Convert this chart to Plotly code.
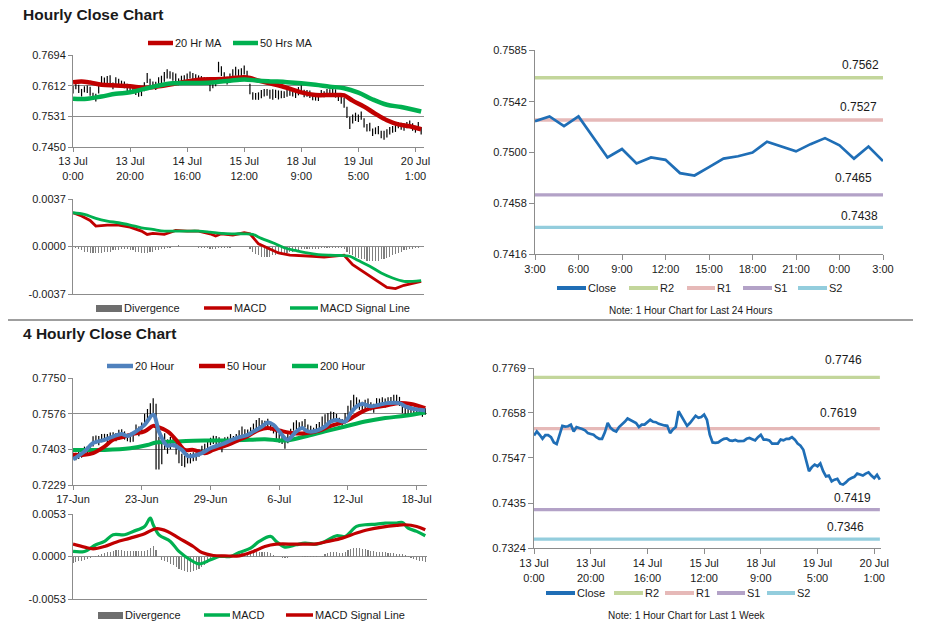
import plotly.graph_objects as go

# ---------------- DATA ----------------
# 1-hour close, last week (13 Jul 0:00 -> 20 Jul ~2:00), hourly index
close_1w = [0.7602,0.7612,0.7604,0.7594,0.7603,0.7603,0.7598,0.7585,0.7581,0.7603,
            0.7626,0.7624,0.7625,0.7629,0.7612,0.7623,0.7621,0.7618,0.7615,0.7608,
            0.7606,0.7604,0.7598,0.7594,0.7594,0.7610,0.7633,0.7621,0.7615,0.7612,
            0.7623,0.7629,0.7636,0.7644,0.7641,0.7637,0.7633,0.7623,0.7629,0.7629,
            0.7635,0.7641,0.7636,0.7635,0.7631,0.7628,0.7627,0.7626,0.7608,0.7617,
            0.7623,0.7662,0.7651,0.7637,0.7626,0.7633,0.7643,0.7651,0.7646,0.7648,
            0.7654,0.7641,0.7604,0.7585,0.7584,0.7585,0.7590,0.7594,0.7595,0.7590,
            0.7589,0.7591,0.7588,0.7589,0.7589,0.7594,0.7596,0.7593,0.7590,0.7598,
            0.7604,0.7592,0.7592,0.7590,0.7582,0.7582,0.7582,0.7592,0.7590,0.7594,
            0.7594,0.7598,0.7592,0.7582,0.7577,0.7567,0.7542,0.7514,0.7524,0.7530,
            0.7526,0.7533,0.7514,0.7501,0.7503,0.7489,0.7493,0.7495,0.7483,0.7481,
            0.7486,0.7493,0.7497,0.7500,0.7508,0.7505,0.7503,0.7508,0.7511,0.7503,
            0.7497,0.7505,0.7493]
# half high-low range of the hourly bars
bar_half_1h = [0.0010,0.0009,0.0011,0.0010,0.0008,0.0010,0.0012,0.0009,0.0010,0.0011,
               0.0012,0.0010,0.0013,0.0011,0.0009,0.0012,0.0010,0.0008,0.0009,0.0010,
               0.0008,0.0009,0.0010,0.0011,0.0009,0.0012,0.0013,0.0010,0.0009,0.0011,
               0.0012,0.0010,0.0013,0.0012,0.0010,0.0011,0.0012,0.0009,0.0010,0.0011,
               0.0010,0.0009,0.0010,0.0008,0.0009,0.0010,0.0008,0.0009,0.0010,0.0011,
               0.0012,0.0014,0.0013,0.0011,0.0010,0.0012,0.0013,0.0012,0.0010,0.0011,
               0.0012,0.0011,0.0014,0.0010,0.0009,0.0010,0.0011,0.0010,0.0009,0.0012,
               0.0014,0.0011,0.0012,0.0010,0.0009,0.0011,0.0010,0.0009,0.0010,0.0011,
               0.0012,0.0010,0.0009,0.0010,0.0008,0.0009,0.0010,0.0009,0.0008,0.0010,
               0.0009,0.0010,0.0011,0.0010,0.0012,0.0013,0.0015,0.0016,0.0012,0.0011,
               0.0010,0.0011,0.0012,0.0010,0.0011,0.0010,0.0009,0.0011,0.0010,0.0012,
               0.0011,0.0010,0.0009,0.0010,0.0008,0.0009,0.0010,0.0008,0.0009,0.0010,
               0.0009,0.0011,0.0010]
ma20_1h_x = [0,3,6,10,15,20,25,30,35,40,45,50,55,60,62,65,70,75,80,85,90,93,95,98,102,106,110,114,118,122]
ma20_1h = [0.7622,0.7624,0.7621,0.7615,0.7613,0.7611,0.7607,0.7611,0.7617,0.7624,0.7629,0.7630,0.7632,0.7635,0.7633,
           0.7626,0.7617,0.7607,0.7595,0.7588,0.7588,0.7588,0.7587,0.7573,0.7557,0.7538,0.7521,0.7510,0.7505,0.7497]
ma50_1h_x = [0,5,10,15,20,25,30,35,40,45,50,55,60,65,70,75,80,85,90,95,100,105,110,115,122]
ma50_1h = [0.7578,0.7578,0.7584,0.7591,0.7595,0.7604,0.7613,0.7619,0.7620,0.7620,0.7622,0.7626,0.7629,
           0.7626,0.7624,0.7622,0.7619,0.7615,0.7610,0.7606,0.7594,0.7576,0.7562,0.7556,0.7544]
hour_ticks_1w = [0,20,40,60,80,100,120]
hour_labels_1w = ["13 Jul<br>0:00","13 Jul<br>20:00","14 Jul<br>16:00","15 Jul<br>12:00",
                  "18 Jul<br>9:00","19 Jul<br>5:00","20 Jul<br>1:00"]

# hourly MACD
macd_1h_x = [0,3,6,8,12,16,20,24,26,28,32,36,40,44,48,50,52,56,60,62,65,68,72,76,80,84,88,92,95,98,102,106,110,113,116,119,122]
macd_1h = [0.00263,0.00237,0.00203,0.00159,0.00167,0.00167,0.00151,0.00120,0.00094,0.00102,
           0.00094,0.00125,0.00120,0.00120,0.00099,0.00081,0.00099,0.00089,0.00107,0.00099,
           0.00021,-0.00010,-0.00050,-0.00068,-0.00070,-0.00076,-0.00083,-0.00076,-0.00068,-0.00141,
           -0.00198,-0.00258,-0.00318,-0.00328,-0.00302,-0.00287,-0.00271]
signal_1h_x = [0,4,8,12,16,20,24,28,32,36,40,44,48,52,56,60,63,66,70,74,78,82,86,90,94,97,100,104,108,112,116,119,122]
signal_1h = [0.00263,0.00250,0.00219,0.00198,0.00185,0.00167,0.00146,0.00133,0.00120,0.00120,
             0.00120,0.00120,0.00112,0.00102,0.00099,0.00099,0.00094,0.00063,0.00029,-0.00010,
             -0.00031,-0.00050,-0.00063,-0.00068,-0.00070,-0.00076,-0.00109,-0.00154,-0.00206,-0.00245,
             -0.00271,-0.00271,-0.00266]
div_1h = [0.0000,-0.0001,-0.0002,-0.0003,-0.0004,-0.0004,-0.0005,-0.0005,-0.0005,-0.0005,
          -0.0005,-0.0004,-0.0004,-0.0004,-0.0003,-0.0003,-0.0003,-0.0002,-0.0002,-0.0002,
          -0.0003,-0.0003,-0.0004,-0.0004,-0.0005,-0.0005,-0.0005,-0.0004,-0.0004,-0.0003,
          -0.0003,-0.0002,-0.0002,-0.0001,-0.0001,0.0000,0.0000,0.0001,0.0000,0.0000,
          0.0000,0.0000,0.0000,0.0000,-0.0001,-0.0001,-0.0001,-0.0001,-0.0002,-0.0002,
          -0.0002,-0.0001,-0.0001,-0.0001,-0.0001,-0.0001,0.0000,0.0000,0.0000,0.0000,
          0.0000,0.0000,-0.0002,-0.0004,-0.0006,-0.0007,-0.0008,-0.0008,-0.0008,-0.0008,
          -0.0007,-0.0007,-0.0006,-0.0006,-0.0005,-0.0005,-0.0004,-0.0004,-0.0003,-0.0003,
          -0.0002,-0.0002,-0.0002,-0.0002,-0.0002,-0.0002,-0.0002,-0.0001,-0.0001,-0.0001,
          -0.0001,-0.0001,-0.0001,-0.0001,-0.0001,-0.0002,-0.0004,-0.0006,-0.0007,-0.0008,
          -0.0009,-0.0010,-0.0010,-0.0011,-0.0011,-0.0011,-0.0011,-0.0011,-0.0010,-0.0010,
          -0.0009,-0.0008,-0.0007,-0.0006,-0.0005,-0.0004,-0.0003,-0.0003,-0.0002,-0.0002,
          -0.0001,-0.0001,0.0000]

# 1-hour close, last 24 hours
close_24h = [0.7526,0.7530,0.7522,0.7530,0.7513,0.7496,0.7503,0.7491,0.7496,0.7494,0.7483,0.7481,0.7488,
             0.7495,0.7497,0.7500,0.7509,0.7505,0.7501,0.7507,0.7512,0.7506,0.7495,0.7505,0.7493]
hour_labels_24h = ["3:00","6:00","9:00","12:00","15:00","18:00","21:00","0:00","3:00"]
levels_24h = {"R2": 0.7562, "R1": 0.7527, "S1": 0.7465, "S2": 0.7438}
levels_1w = {"R2": 0.7746, "R1": 0.7619, "S1": 0.7419, "S2": 0.7346}

# 4-hourly bars (mid and half range)
mid_4h = [0.7371,0.7368,0.7375,0.7380,0.7400,0.7398,0.7405,0.7441,0.7450,0.7445,
          0.7457,0.7460,0.7455,0.7465,0.7468,0.7462,0.7473,0.7478,0.7470,0.7460,
          0.7457,0.7462,0.7498,0.7490,0.7505,0.7546,0.7571,0.7595,0.7612,0.7465,
          0.7384,0.7400,0.7441,0.7416,0.7433,0.7441,0.7408,0.7367,0.7351,0.7343,
          0.7359,0.7359,0.7367,0.7367,0.7384,0.7400,0.7408,0.7424,0.7441,0.7449,
          0.7446,0.7441,0.7416,0.7441,0.7446,0.7457,0.7449,0.7457,0.7473,0.7490,
          0.7481,0.7481,0.7490,0.7506,0.7522,0.7530,0.7522,0.7522,0.7530,0.7514,
          0.7498,0.7473,0.7457,0.7449,0.7433,0.7457,0.7481,0.7514,0.7522,0.7514,
          0.7522,0.7530,0.7506,0.7498,0.7490,0.7506,0.7514,0.7538,0.7546,0.7555,
          0.7563,0.7563,0.7555,0.7538,0.7530,0.7555,0.7587,0.7612,0.7636,0.7628,
          0.7620,0.7612,0.7620,0.7628,0.7612,0.7603,0.7628,0.7628,0.7636,0.7628,
          0.7636,0.7636,0.7644,0.7644,0.7636,0.7603,0.7595,0.7587,0.7595,0.7587,
          0.7587,0.7595,0.7579,0.7587]
bar_half_4h = [0.0015,0.0018,0.0020,0.0018,0.0016,0.0020,0.0022,0.0025,0.0020,0.0022,
               0.0020,0.0018,0.0022,0.0020,0.0018,0.0020,0.0025,0.0022,0.0020,0.0018,
               0.0020,0.0022,0.0025,0.0024,0.0028,0.0030,0.0028,0.0032,0.0040,0.0160,
               0.0080,0.0070,0.0040,0.0035,0.0030,0.0028,0.0030,0.0032,0.0030,0.0028,
               0.0025,0.0025,0.0022,0.0020,0.0018,0.0020,0.0022,0.0020,0.0018,0.0020,
               0.0022,0.0020,0.0028,0.0020,0.0018,0.0020,0.0018,0.0020,0.0022,0.0024,
               0.0020,0.0018,0.0020,0.0022,0.0024,0.0025,0.0022,0.0020,0.0022,0.0020,
               0.0018,0.0020,0.0022,0.0020,0.0028,0.0025,0.0022,0.0020,0.0022,0.0020,
               0.0018,0.0020,0.0018,0.0020,0.0018,0.0020,0.0022,0.0025,0.0028,0.0025,
               0.0024,0.0022,0.0020,0.0018,0.0020,0.0025,0.0028,0.0030,0.0032,0.0028,
               0.0025,0.0022,0.0024,0.0022,0.0020,0.0022,0.0024,0.0022,0.0020,0.0022,
               0.0020,0.0022,0.0024,0.0025,0.0022,0.0025,0.0022,0.0020,0.0018,0.0020,
               0.0018,0.0016,0.0018,0.0016]
ma20_4h_x = [0,4,7,11,14,17,19,22,25,28,30,32,33,35,38,40,42,45,48,53,57,61,63,66,68,70,72,74,75,78,
             80,82,85,88,90,92,95,97,99,101,104,107,110,114,116,119,121,123]
ma20_4h = [0.7354,0.7392,0.7433,0.7449,0.7465,0.7477,0.7468,0.7490,0.7522,0.7571,
           0.7490,0.7433,0.7420,0.7424,0.7400,0.7371,0.7371,0.7384,0.7408,0.7433,
           0.7457,0.7473,0.7490,0.7514,0.7533,0.7522,0.7490,0.7457,0.7449,0.7490,
           0.7506,0.7490,0.7493,0.7514,0.7538,0.7546,0.7538,0.7579,0.7612,0.7623,
           0.7612,0.7620,0.7628,0.7628,0.7612,0.7599,0.7595,0.7592]
ma50_4h_x = [0,4,7,11,14,18,21,25,28,29,33,36,39,42,46,49,54,58,61,65,68,72,77,81,86,90,95,100,104,109,114,118,123]
ma50_4h = [0.7376,0.7376,0.7384,0.7416,0.7449,0.7465,0.7478,0.7490,0.7517,0.7514,
           0.7490,0.7449,0.7400,0.7400,0.7384,0.7400,0.7424,0.7449,0.7467,0.7498,
           0.7506,0.7494,0.7481,0.7481,0.7494,0.7517,0.7538,0.7579,0.7603,0.7615,
           0.7628,0.7623,0.7603]
ma200_4h_x = [0,11,20,26,29,36,46,55,62,67,72,75,81,88,95,102,109,116,123]
ma200_4h = [0.7400,0.7400,0.7408,0.7424,0.7436,0.7441,0.7446,0.7446,0.7449,0.7452,
            0.7446,0.7446,0.7465,0.7490,0.7514,0.7538,0.7555,0.7566,0.7582]
day_ticks_4h = [0,24,48,72,96,120]
day_labels_4h = ["17-Jun","23-Jun","29-Jun","6-Jul","12-Jul","18-Jul"]

# 4-hourly MACD
macd_4h_x = [0,4,8,11,14,18,21,25,27,28,30,34,37,41,44,48,51,55,58,62,65,69,71,74,78,81,85,88,92,95,
             99,102,106,109,113,115,117,120,123]
macd_4h = [0.00063,0.00063,0.00146,0.00188,0.00271,0.00271,0.00313,0.00375,0.00480,0.00396,
           0.00271,0.00188,0.00063,-0.00042,-0.00092,-0.00042,0.00000,0.00000,0.00050,0.00104,
           0.00188,0.00250,0.00188,0.00117,0.00146,0.00167,0.00154,0.00188,0.00259,0.00250,
           0.00375,0.00396,0.00404,0.00417,0.00417,0.00425,0.00354,0.00313,0.00259]
signal_4h_x = [0,4,7,11,15,20,25,29,33,37,42,45,49,53,58,63,67,71,78,85,89,94,99,103,108,113,116,120,123]
signal_4h = [0.00154,0.00117,0.00096,0.00125,0.00179,0.00229,0.00284,0.00346,0.00313,0.00229,
             0.00125,0.00050,0.00013,0.00008,0.00008,0.00063,0.00125,0.00154,0.00154,0.00158,
             0.00188,0.00229,0.00292,0.00334,0.00367,0.00388,0.00396,0.00375,0.00334]
div_4h = [-0.0008,-0.0007,-0.0006,-0.0005,-0.0004,-0.0003,-0.0002,-0.0001,0.0001,0.0002,
          0.0003,0.0004,0.0005,0.0006,0.0007,0.0008,0.0008,0.0008,0.0007,0.0007,
          0.0007,0.0007,0.0007,0.0007,0.0007,0.0007,0.0008,0.0010,0.0013,0.0008,
          -0.0001,-0.0004,-0.0005,-0.0007,-0.0009,-0.0011,-0.0013,-0.0015,-0.0017,-0.0018,
          -0.0019,-0.0019,-0.0018,-0.0017,-0.0015,-0.0013,-0.0011,-0.0008,-0.0006,-0.0004,
          -0.0002,-0.0001,0.0000,0.0001,0.0001,0.0002,0.0002,0.0003,0.0003,0.0004,
          0.0004,0.0005,0.0005,0.0005,0.0006,0.0006,0.0006,0.0006,0.0006,0.0004,
          0.0002,0.0000,-0.0001,-0.0002,-0.0002,-0.0002,-0.0001,-0.0001,0.0000,0.0000,
          0.0001,0.0001,0.0001,0.0001,0.0001,0.0001,0.0000,0.0001,0.0003,0.0004,
          0.0005,0.0005,0.0005,0.0004,0.0004,0.0006,0.0008,0.0009,0.0010,0.0010,
          0.0010,0.0009,0.0009,0.0008,0.0007,0.0007,0.0006,0.0006,0.0005,0.0005,
          0.0004,0.0004,0.0004,0.0003,0.0003,0.0003,0.0002,0.0001,-0.0002,-0.0003,
          -0.0004,-0.0005,-0.0006,-0.0007]

# ---------------- STYLE ----------------
W, H = 928, 638
FONT = "Arial, 'Liberation Sans', sans-serif"
RED, GREEN, BLUE_MA, CLOSE = "#C00000", "#00B050", "#4F81BD", "#1F6EB6"
LEVEL_COLORS = {"R2": "#C3D69B", "R1": "#E6B9B8", "S1": "#B3A2C7", "S2": "#93CDDD"}
GRID, DIVC, TXT = "#8C8C8C", "#7F7F7F", "#1A1A1A"


def fx(p):
    return p / W


def fy(p):
    return 1 - p / H


def hl_path(mid, half):
    xs, ys = [], []
    for i, (m, h) in enumerate(zip(mid, half)):
        xs += [i, i, None]
        ys += [m - h, m + h, None]
    return xs, ys


fig = go.Figure()

# ---- top-left: hourly close with MAs ----
bx, by = hl_path(close_1w, bar_half_1h)
fig.add_trace(go.Scatter(x=bx, y=by, mode="lines", line=dict(color="black", width=1.2),
                         xaxis="x", yaxis="y", showlegend=False, hoverinfo="skip"))
fig.add_trace(go.Scatter(x=ma20_1h_x, y=ma20_1h, mode="lines", line=dict(color=RED, width=4.5, shape="spline"),
                         xaxis="x", yaxis="y", showlegend=False, name="20 Hr MA"))
fig.add_trace(go.Scatter(x=ma50_1h_x, y=ma50_1h, mode="lines", line=dict(color=GREEN, width=4.5, shape="spline"),
                         xaxis="x", yaxis="y", showlegend=False, name="50 Hrs MA"))

# ---- top-left MACD ----
fig.add_trace(go.Bar(x=list(range(len(div_1h))), y=div_1h, width=0.4, marker=dict(color=DIVC, line=dict(width=0)),
                     xaxis="x2", yaxis="y2", showlegend=False, name="Divergence"))
fig.add_trace(go.Scatter(x=macd_1h_x, y=macd_1h, mode="lines", line=dict(color=RED, width=2.8),
                         xaxis="x2", yaxis="y2", showlegend=False, name="MACD"))
fig.add_trace(go.Scatter(x=signal_1h_x, y=signal_1h, mode="lines", line=dict(color=GREEN, width=2.8, shape="spline"),
                         xaxis="x2", yaxis="y2", showlegend=False, name="MACD Signal Line"))

# ---- top-right: 24h close with levels ----
hours_24 = list(range(len(close_24h)))
for k, v in levels_24h.items():
    fig.add_trace(go.Scatter(x=[hours_24[0], hours_24[-1]], y=[v, v], mode="lines",
                             line=dict(color=LEVEL_COLORS[k], width=3.3), xaxis="x3", yaxis="y3",
                             showlegend=False, name=k))
fig.add_trace(go.Scatter(x=hours_24, y=close_24h, mode="lines", line=dict(color=CLOSE, width=2.7),
                         xaxis="x3", yaxis="y3", showlegend=False, name="Close"))

# ---- bottom-left: 4 hourly ----
bx4, by4 = hl_path(mid_4h, bar_half_4h)
fig.add_trace(go.Scatter(x=bx4, y=by4, mode="lines", line=dict(color="black", width=1.2),
                         xaxis="x4", yaxis="y4", showlegend=False, hoverinfo="skip"))
fig.add_trace(go.Scatter(x=ma200_4h_x, y=ma200_4h, mode="lines", line=dict(color=GREEN, width=4, shape="spline"),
                         xaxis="x4", yaxis="y4", showlegend=False, name="200 Hour"))
fig.add_trace(go.Scatter(x=ma50_4h_x, y=ma50_4h, mode="lines", line=dict(color=RED, width=4, shape="spline"),
                         xaxis="x4", yaxis="y4", showlegend=False, name="50 Hour"))
fig.add_trace(go.Scatter(x=ma20_4h_x, y=ma20_4h, mode="lines", line=dict(color=BLUE_MA, width=4, shape="spline"),
                         xaxis="x4", yaxis="y4", showlegend=False, name="20 Hour"))

# ---- bottom-left MACD ----
fig.add_trace(go.Bar(x=list(range(len(div_4h))), y=div_4h, width=0.4, marker=dict(color=DIVC, line=dict(width=0)),
                     xaxis="x5", yaxis="y5", showlegend=False, name="Divergence"))
fig.add_trace(go.Scatter(x=macd_4h_x, y=macd_4h, mode="lines", line=dict(color=GREEN, width=3.2, shape="spline"),
                         xaxis="x5", yaxis="y5", showlegend=False, name="MACD"))
fig.add_trace(go.Scatter(x=signal_4h_x, y=signal_4h, mode="lines", line=dict(color=RED, width=3.2, shape="spline"),
                         xaxis="x5", yaxis="y5", showlegend=False, name="MACD Signal Line"))

# ---- bottom-right: 1 week close with levels ----
hours_1w = list(range(len(close_1w)))
for k, v in levels_1w.items():
    fig.add_trace(go.Scatter(x=[hours_1w[0], hours_1w[-1]], y=[v, v], mode="lines",
                             line=dict(color=LEVEL_COLORS[k], width=3.3), xaxis="x6", yaxis="y6",
                             showlegend=False, name=k))
fig.add_trace(go.Scatter(x=hours_1w, y=close_1w, mode="lines", line=dict(color=CLOSE, width=2.7),
                         xaxis="x6", yaxis="y6", showlegend=False, name="Close"))

# ---------------- AXES ----------------
tickfont = dict(family=FONT, size=11, color=TXT)


def yax(dom, rng, vals, anchor, grid=True, ticklen=4):
    return dict(domain=[fy(dom[0]), fy(dom[1])], range=rng, tickvals=vals, anchor=anchor,
                ticktext=[f"{v:.4f}" for v in vals], showgrid=grid, gridcolor=GRID, gridwidth=1,
                showline=True, linecolor=GRID, linewidth=1, ticks="outside", ticklen=ticklen, tickcolor=GRID,
                zeroline=False, tickfont=tickfont, fixedrange=True, automargin=False)


def xax(dom, rng, anchor, vals=None, text=None, show=True, ticklen=4):
    d = dict(domain=[fx(dom[0]), fx(dom[1])], range=rng, anchor=anchor, showgrid=False, zeroline=False,
             showline=True, linecolor=GRID, linewidth=1, tickfont=tickfont, fixedrange=True,
             automargin=False)
    if show:
        d.update(tickvals=vals, ticktext=text, ticks="outside", ticklen=ticklen, tickcolor=GRID)
    else:
        d.update(showticklabels=False, ticks="")
    return d


fig.update_layout(
    template="none",
    width=W, height=H, autosize=False, margin=dict(l=0, r=0, t=0, b=0, pad=0),
    paper_bgcolor="white", plot_bgcolor="white", font=dict(family=FONT, color=TXT),
    barmode="overlay", bargap=0, showlegend=False,
    xaxis=xax((73, 424), [0, 123], "y", hour_ticks_1w, hour_labels_1w),
    yaxis=yax((147, 55), [0.7450, 0.7694], [0.7450, 0.7531, 0.7612, 0.7694], "x"),
    xaxis2=xax((73, 424), [0, 123], "y2", show=False),
    yaxis2=yax((294, 199), [-0.0037, 0.0037], [-0.0037, 0.0, 0.0037], "x2"),
    xaxis3=xax((535, 883), [0, 24], "y3", list(range(0, 25, 3)), hour_labels_24h, ticklen=5),
    yaxis3=yax((254, 50), [0.7416, 0.7585], [0.7416, 0.7458, 0.7500, 0.7542, 0.7585], "x3",
               grid=False, ticklen=5),
    xaxis4=xax((73, 427), [0, 123.6], "y4", day_ticks_4h, day_labels_4h),
    yaxis4=yax((485, 378), [0.7229, 0.7750], [0.7229, 0.7403, 0.7576, 0.7750], "x4"),
    xaxis5=xax((73, 427), [0, 123.6], "y5", show=False),
    yaxis5=yax((599, 514), [-0.0053, 0.0053], [-0.0053, 0.0, 0.0053], "x5"),
    xaxis6=xax((534, 881), [0, 122.4], "y6", hour_ticks_1w, hour_labels_1w, ticklen=5),
    yaxis6=yax((548, 368), [0.7324, 0.7769], [0.7324, 0.7435, 0.7547, 0.7658, 0.7769], "x6",
               grid=False, ticklen=5),
)

shapes, annots = [], []


def text(x, y, s, size=11, anchor="left", bold=False):
    annots.append(dict(x=fx(x), y=fy(y), xref="paper", yref="paper", text=f"<b>{s}</b>" if bold else s,
                       showarrow=False, xanchor=anchor, yanchor="middle",
                       font=dict(family=FONT, size=size, color=TXT)))


def leg_line(x0, x1, y, color, w=4.5):
    shapes.append(dict(type="line", xref="paper", yref="paper", x0=fx(x0), x1=fx(x1), y0=fy(y), y1=fy(y),
                       line=dict(color=color, width=w)))


def leg_rect(x0, x1, y0, y1, color):
    shapes.append(dict(type="rect", xref="paper", yref="paper", x0=fx(x0), x1=fx(x1), y0=fy(y0), y1=fy(y1),
                       fillcolor=color, line=dict(width=0)))


# titles
text(21, 14, "Hourly Close Chart", size=15.5, bold=True)
text(21, 333, "4 Hourly Close Chart", size=15.5, bold=True)

# separator
shapes.append(dict(type="line", xref="paper", yref="paper", x0=fx(8), x1=fx(913), y0=fy(320), y1=fy(320),
                   line=dict(color="#7F7F7F", width=1.5)))

# legend top-left
leg_line(148, 173, 43, RED); text(173, 43, "20 Hr MA")
leg_line(233, 258, 43, GREEN); text(258, 43, "50 Hrs MA")
# legend top-left MACD
leg_rect(96, 122, 305, 312, "#6E6E6E"); text(122, 308, "Divergence")
leg_line(204, 232, 308, RED, 3.5); text(232, 308, "MACD")
leg_line(290, 318, 308, GREEN, 3.5); text(318, 308, "MACD Signal Line")
# legend top-right
for (x0, x1, col, lab) in [(557, 586, CLOSE, "Close"), (629, 658, LEVEL_COLORS["R2"], "R2"),
                           (687, 715, LEVEL_COLORS["R1"], "R1"), (743, 772, LEVEL_COLORS["S1"], "S1"),
                           (798, 827, LEVEL_COLORS["S2"], "S2")]:
    leg_line(x0, x1, 288, col, 4); text(x1, 288, lab)
text(690, 310, "Note: 1 Hour Chart for Last 24 Hours", size=10, anchor="center")
# legend bottom-left
leg_line(107, 133, 366, BLUE_MA); text(133, 366, "20 Hour")
leg_line(199, 225, 366, RED); text(225, 366, "50 Hour")
leg_line(292, 318, 366, GREEN); text(318, 366, "200 Hour")
# legend bottom-left MACD
leg_rect(98, 123, 612, 619, "#6E6E6E"); text(123, 615, "Divergence")
leg_line(204, 230, 615, GREEN, 3.5); text(230, 615, "MACD")
leg_line(286, 313, 615, RED, 3.5); text(313, 615, "MACD Signal Line")
# legend bottom-right
for (x0, x1, col, lab) in [(546, 575, CLOSE, "Close"), (614, 643, LEVEL_COLORS["R2"], "R2"),
                           (665, 694, LEVEL_COLORS["R1"], "R1"), (717, 745, LEVEL_COLORS["S1"], "S1"),
                           (767, 795, LEVEL_COLORS["S2"], "S2")]:
    leg_line(x0, x1, 593, col, 4); text(x1, 593, lab)
text(687, 615, "Note: 1 Hour Chart for Last 1 Week", size=10, anchor="center")

# level value labels
lab_24 = {"R2": (881, 13), "R1": (879, 13), "S1": (874, 17), "S2": (880, 11)}
for k, v in levels_24h.items():
    x, dy = lab_24[k]
    annots.append(dict(x=fx(x), xref="paper", y=v, yref="y3", yshift=dy, text=f"{v:.4f}", showarrow=False,
                       xanchor="right", yanchor="middle", font=dict(family=FONT, size=12, color=TXT)))
lab_1w = {"R2": (843, 17), "R1": (838, 16), "S1": (852, 12), "S2": (845, 12)}
for k, v in levels_1w.items():
    x, dy = lab_1w[k]
    annots.append(dict(x=fx(x), xref="paper", y=v, yref="y6", yshift=dy, text=f"{v:.4f}", showarrow=False,
                       xanchor="center", yanchor="middle", font=dict(family=FONT, size=12, color=TXT)))

fig.update_layout(shapes=shapes, annotations=annots)
fig.write_html("out.html",
               config={"displayModeBar": False, "staticPlot": True},
               post_script="document.body.style.margin='0';document.body.style.padding='0';"
                           "document.body.style.overflow='hidden';")
